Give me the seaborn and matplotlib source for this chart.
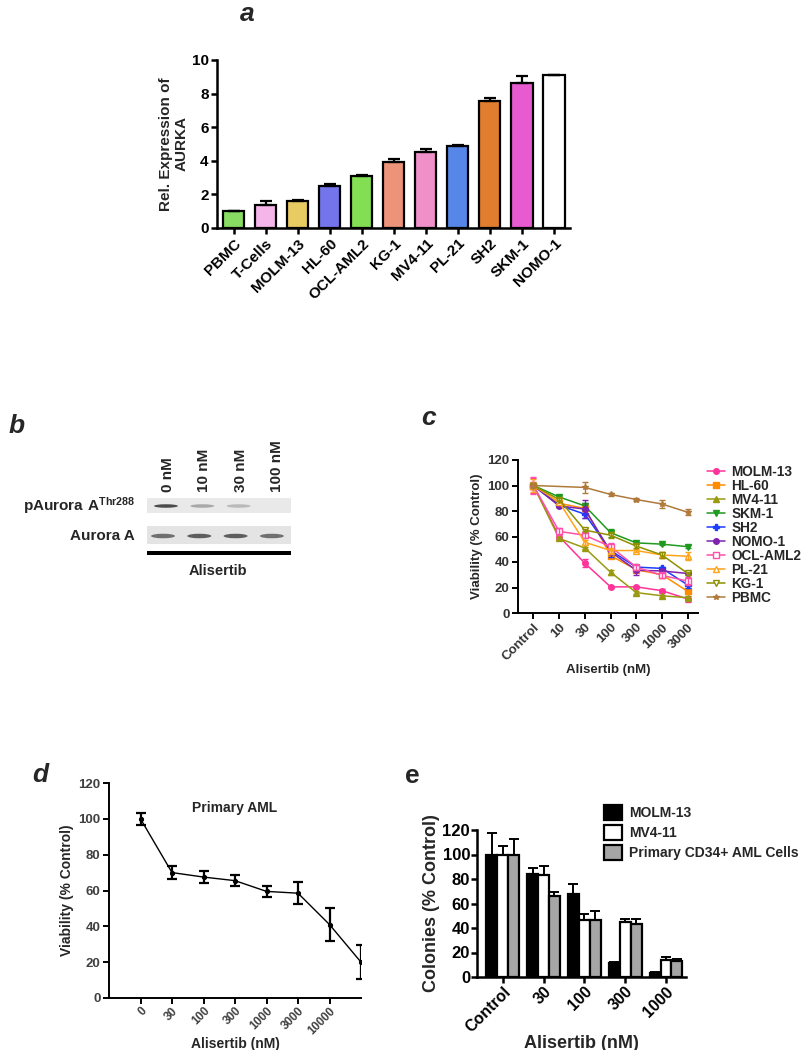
import numpy as np
import pandas as pd
import matplotlib
matplotlib.use('Agg')
import matplotlib.pyplot as plt
from matplotlib.patches import Rectangle, Ellipse
import seaborn as sns

W, H = 801, 1050

# ---- panel a: relative AURKA expression
a_lines = ['PBMC', 'T-Cells', 'MOLM-13', 'HL-60', 'OCL-AML2', 'KG-1',
           'MV4-11', 'PL-21', 'SH2', 'SKM-1', 'NOMO-1']
a_vals = [1.0, 1.38, 1.62, 2.48, 3.08, 3.9, 4.52, 4.88, 7.58, 8.62, 9.12]
a_err = [0.0, 0.2, 0.05, 0.15, 0.07, 0.2, 0.2, 0.05, 0.15, 0.45, 0.0]
a_colors = ['#80f050', '#ffaaee', '#ffd84a', '#6161ff', '#7cf53c', '#ff8866',
            '#ff80cc', '#3e7eff', '#ff7a10', '#ff44e0', '#ffffff']

# ---- panel b: western blot band intensities
b_lanes = ['0 nM', '10 nM', '30 nM', '100 nM']
b_paurora = [0.85, 0.35, 0.25, 0.0]
b_aurora = [0.65, 0.75, 0.75, 0.65]

# ---- panel c: viability of cell lines
c_conc = ['Control', '10', '30', '100', '300', '1000', '3000']
c_series = ['MOLM-13', 'HL-60', 'MV4-11', 'SKM-1', 'SH2', 'NOMO-1',
            'OCL-AML2', 'PL-21', 'KG-1', 'PBMC']
c_molm13 = [100, 60, 39, 20.5, 20.5, 17.5, 11]
c_hl60 = [100, 86, 82, 45, 34, 30, 17]
c_mv411 = [100, 58.5, 51, 32, 16, 13.5, 12]
c_skm1 = [100, 91, 84, 63, 55, 54, 52]
c_sh2 = [100, 84.5, 77.5, 49, 36, 35, 22]
c_nomo1 = [100, 84, 81.5, 48, 33.5, 33, 31]
c_oclaml2 = [100, 64, 61, 52, 36, 29.5, 25]
c_pl21 = [100, 87, 55.5, 49, 49, 45.5, 44.5]
c_kg1 = [100, 89, 65, 61, 52.5, 45.5, 31]
c_pbmc = [100, np.nan, 98.5, 93, 89, 85.5, 79]
c_err_molm13 = [6, 2, 3, 0.5, 1, 1.5, 2]
c_err_hl60 = [3, 1, 2, 2, 1.5, 1.5, 1]
c_err_mv411 = [2, 1.5, 1, 2, 1, 1, 1]
c_err_skm1 = [1, 1, 2, 3, 1, 1, 1]
c_err_sh2 = [1, 1, 3, 5, 1.5, 1, 2]
c_err_nomo1 = [1, 1, 7, 2, 4, 1.5, 1]
c_err_oclaml2 = [7, 3, 2, 3, 2, 2, 3]
c_err_pl21 = [5, 1, 2, 2, 1.5, 2, 3]
c_err_kg1 = [1, 1, 1, 2, 1.5, 2, 1]
c_err_pbmc = [2, np.nan, 4, 1.5, 1.5, 3, 2.5]
c_colors = ['#ff3399', '#ff8c00', '#9a9a10', '#1f9a1f', '#1a3dff', '#7f22b0',
            '#ff4fa7', '#ffa31a', '#8f8f00', '#b07a3c']
c_markers = ['o', 's', '^', 'v', 'P', 'o', 's', '^', 'v', '*']
c_open = [False, False, False, False, False, False, True, True, True, False]

# ---- panel d: primary AML
d_conc = ['0', '30', '100', '300', '1000', '3000', '10000']
d_vals = [100, 70, 67.5, 65.5, 59.5, 58.5, 41, 20]
d_err = [3.3, 3.5, 3.5, 3, 3, 6, 9, 9.5]

# ---- panel e: colonies
e_conc = ['Control', '30', '100', '300', '1000']
e_groups = ['MOLM-13', 'MV4-11', 'Primary CD34+ AML Cells']
e_molm13 = [100, 84, 68, 11.3, 3.3]
e_mv411 = [100, 83, 46.5, 45, 13.5]
e_primary = [100, 66, 46.2, 43.5, 12.8]
e_err_molm13 = [17.5, 4.6, 8, 0.8, 0.5]
e_err_mv411 = [7, 8, 5, 2, 2.7]
e_err_primary = [13, 3.3, 7.4, 4, 1.7]
e_colors = ['#000000', '#ffffff', '#a6a6a6']

sns.set_theme(style='ticks')
plt.rcParams['font.family'] = ['Liberation Sans', 'DejaVu Sans']
plt.rcParams['font.weight'] = 'bold'
plt.rcParams['axes.labelweight'] = 'bold'
plt.rcParams['mathtext.fontset'] = 'custom'
plt.rcParams['mathtext.bf'] = 'Liberation Sans:bold'
plt.rcParams['mathtext.rm'] = 'Liberation Sans:bold'

fig = plt.figure(figsize=(W / 100, H / 100), dpi=100)


def px_axes(left, top, right, bottom):
    return fig.add_axes([left / W, 1 - bottom / H, (right - left) / W, (bottom - top) / H])


def fig_text(x, y, s, **kw):
    fig.text(x / W, 1 - y / H, s, **kw)


def style_axis(ax, lw, size, color='black', pad=2):
    sns.despine(ax=ax)
    for sp in ['left', 'bottom']:
        ax.spines[sp].set_linewidth(lw)
        ax.spines[sp].set_color('black')
    ax.tick_params(width=lw, length=4, pad=pad, labelsize=size, colors='black', labelcolor=color)
    for lab in ax.get_xticklabels() + ax.get_yticklabels():
        lab.set_fontweight('bold')


# ================= panel a
axA = px_axes(217, 60, 570, 228)
sns.barplot(x=a_lines, y=a_vals, hue=a_lines, palette=a_colors, legend=False,
            width=0.66, edgecolor='black', linewidth=1.6, ax=axA)
a_x = [p.get_x() + p.get_width() / 2 for p in axA.patches]
axA.errorbar(a_x, a_vals, yerr=[np.zeros(len(a_err)), a_err], fmt='none',
             ecolor='black', elinewidth=1.6, capsize=4, capthick=1.6)
axA.set_xlim(-0.52, 10.5)
axA.set_ylim(0, 10)
axA.set_yticks([0, 2, 4, 6, 8, 10])
axA.set_ylabel('Rel. Expression of\nAURKA', fontsize=11, labelpad=2)
axA.set_xticks(range(len(a_lines)))
axA.set_xticklabels(a_lines, rotation=45, ha='right', rotation_mode='anchor')
style_axis(axA, 1.8, 11)
fig_text(247, 14, 'a', fontsize=19, fontweight='bold', style='italic', ha='center', va='center')

# ================= panel b (blot)
axB = px_axes(147, 495, 291, 560)
axB.set_xlim(147, 291)
axB.set_ylim(560, 495)
axB.axis('off')
axB.add_patch(Rectangle((147, 498), 144, 15, facecolor='#e9e9e9', edgecolor='none'))
axB.add_patch(Rectangle((147, 526), 144, 18, facecolor='#e4e4e4', edgecolor='none'))
axB.add_patch(Rectangle((147, 551), 144, 4, facecolor='black', edgecolor='none'))
for i, lane in enumerate(b_lanes):
    cx = 163 + 36.3 * i
    if b_paurora[i] > 0:
        axB.add_patch(Ellipse((cx + 3, 506), 24, 3.5, facecolor='#303030',
                              alpha=b_paurora[i], edgecolor='none'))
    axB.add_patch(Ellipse((cx, 536), 24, 4.5, facecolor='#303030',
                          alpha=b_aurora[i], edgecolor='none'))
    fig_text(cx + 5, 492, lane, rotation=90, ha='center', va='bottom',
             fontsize=11, fontweight='bold')
fig_text(135, 506, r'$\mathbf{pAurora\ A^{Thr288}}$', ha='right', va='center', fontsize=11)
fig_text(135, 536, 'Aurora A', ha='right', va='center', fontsize=11, fontweight='bold')
fig_text(218, 571, 'Alisertib', ha='center', va='center', fontsize=10.5, fontweight='bold')
fig_text(17, 426, 'b', fontsize=19, fontweight='bold', style='italic', ha='center', va='center')

# ================= panel c
axC = px_axes(518, 460, 698, 613)
c_vals = [c_molm13, c_hl60, c_mv411, c_skm1, c_sh2, c_nomo1, c_oclaml2, c_pl21, c_kg1, c_pbmc]
c_errs = [c_err_molm13, c_err_hl60, c_err_mv411, c_err_skm1, c_err_sh2, c_err_nomo1,
          c_err_oclaml2, c_err_pl21, c_err_kg1, c_err_pbmc]
for name, vals, errs, col, mk, op in zip(c_series, c_vals, c_errs, c_colors, c_markers, c_open):
    df = pd.DataFrame({'x': range(len(c_conc)), 'y': vals, 'e': errs}).dropna()
    sns.lineplot(data=df, x='x', y='y', color=col, marker=mk, markersize=4.5 if op else 4,
                 markerfacecolor='white' if op else col, markeredgecolor=col,
                 markeredgewidth=1.0, linewidth=1.1, label=name, ax=axC)
    axC.errorbar(df['x'], df['y'], yerr=df['e'], fmt='none', ecolor=col,
                 elinewidth=1.0, capsize=2.5, capthick=1.0)
axC.set_xlim(-0.6, 6.4)
axC.set_ylim(0, 120)
axC.set_yticks(range(0, 121, 20))
axC.set_xticks(range(len(c_conc)))
axC.set_xticklabels(c_conc, rotation=45, ha='right', rotation_mode='anchor')
axC.set_xlabel('Alisertib (nM)', fontsize=9.5, labelpad=1)
axC.set_ylabel('Viability (% Control)', fontsize=9.5, labelpad=3)
style_axis(axC, 1.4, 9.5, color='#333333')
handles, labels = axC.get_legend_handles_labels()
axC.get_legend().remove()
fig.legend(handles, labels, loc='upper left', bbox_to_anchor=(707 / W, 1 - 465 / H),
           frameon=False, handlelength=1.3, handletextpad=0.5,
           labelspacing=0.0, borderpad=0, borderaxespad=0,
           prop={'weight': 'bold', 'size': 9.8})
fig_text(428, 418, 'c', fontsize=19, fontweight='bold', style='italic', ha='center', va='center')

# ================= panel d
axD = px_axes(109, 783, 361, 998)
d_df = pd.DataFrame({'x': range(len(d_vals)), 'y': d_vals})
sns.lineplot(data=d_df, x='x', y='y', color='black', marker='o', markersize=3,
             markeredgecolor='black', linewidth=1.0, ax=axD)
axD.errorbar(d_df['x'], d_df['y'], yerr=d_err, fmt='none', ecolor='black',
             elinewidth=1.6, capsize=3.5, capthick=1.6)
axD.set_xlim(-1, 7)
axD.set_ylim(0, 120)
axD.set_yticks(range(0, 121, 20))
axD.set_xticks(range(len(d_conc)))
axD.set_xticklabels(d_conc, rotation=45, ha='right', rotation_mode='anchor')
axD.set_xlabel('Alisertib (nM)', fontsize=10, labelpad=0)
axD.set_ylabel('Viability (% Control)', fontsize=10, labelpad=3)
style_axis(axD, 1.4, 9.5, color='#404040')
axD.tick_params(axis='x', labelsize=8.5, pad=1)
axD.text(3, 106, 'Primary AML', ha='center', va='center', fontsize=10, fontweight='bold')
fig_text(40, 775, 'd', fontsize=19, fontweight='bold', style='italic', ha='center', va='center')

# ================= panel e
axE = px_axes(477, 830, 686, 977)
e_df = pd.DataFrame({
    'conc': e_conc * 3,
    'val': e_molm13 + e_mv411 + e_primary,
    'err': e_err_molm13 + e_err_mv411 + e_err_primary,
    'line': [g for g in e_groups for _ in e_conc],
})
sns.barplot(data=e_df, x='conc', y='val', hue='line', palette=e_colors,
            width=0.8, edgecolor='black', linewidth=1.6, ax=axE)
for cont, g in zip(axE.containers, e_groups):
    sub = e_df[e_df['line'] == g]
    xs = [p.get_x() + p.get_width() / 2 for p in cont]
    axE.errorbar(xs, sub['val'], yerr=[np.zeros(len(sub)), sub['err']], fmt='none',
                 ecolor='black', elinewidth=1.4, capsize=3.5, capthick=1.4)
axE.set_xlim(-0.63, 4.49)
axE.set_ylim(0, 120)
axE.set_yticks(range(0, 121, 20))
axE.set_xticks(range(len(e_conc)))
axE.set_xticklabels(e_conc, rotation=45, ha='right', rotation_mode='anchor')
axE.set_xlabel('Alisertib (nM)', fontsize=13, labelpad=0)
axE.set_ylabel('Colonies (% Control)', fontsize=13, labelpad=2)
style_axis(axE, 1.8, 12, pad=1)
axE.tick_params(axis='x', labelsize=11.5)
eh, el = axE.get_legend_handles_labels()
axE.get_legend().remove()
fig.legend(eh, el, loc='upper left', bbox_to_anchor=(604 / W, 1 - 805 / H),
           frameon=False, handlelength=1.3, handleheight=1.3, handletextpad=0.5,
           labelspacing=0.35, borderpad=0, borderaxespad=0,
           prop={'weight': 'bold', 'size': 10})
fig_text(412, 776, 'e', fontsize=19, fontweight='bold', ha='center', va='center')

fig.savefig('out.png', dpi=100)
